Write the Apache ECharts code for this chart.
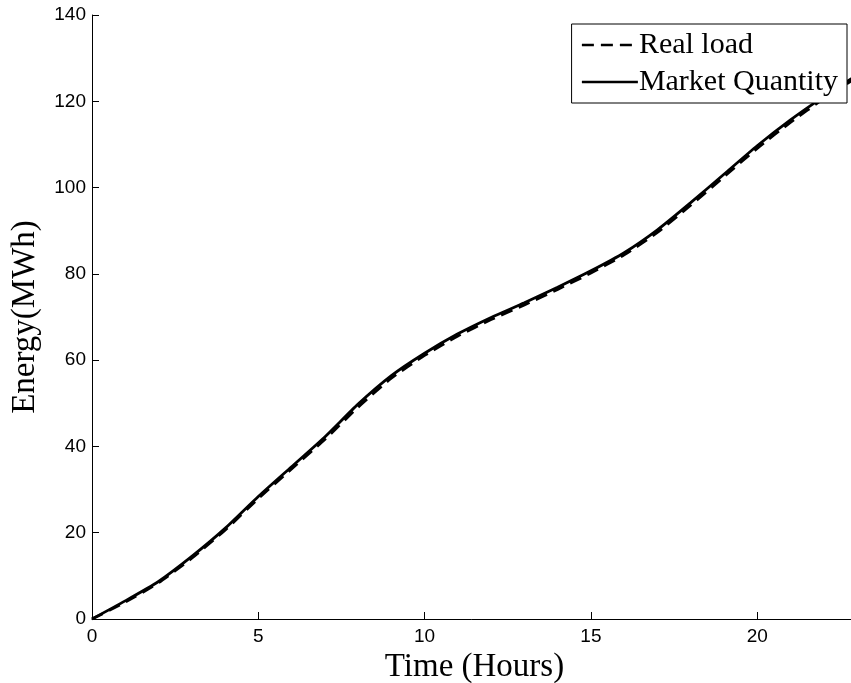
<!DOCTYPE html>
<html>
<head>
<meta charset="utf-8">
<script src="https://cdn.jsdelivr.net/npm/echarts@6/dist/echarts.min.js"></script>
<style>
  html, body { margin: 0; padding: 0; background: #fff; }
  #chart { width: 851px; height: 683px; }
</style>
</head>
<body>
<div id="chart"></div>
<script>
// Hour of day
const hours = [0, 1, 2, 3, 4, 5, 6, 7, 8, 9, 10, 11, 12, 13, 14, 15, 16, 17, 18, 19, 20, 21, 22, 23];
// Cumulative energy actually consumed (MWh)
const realLoad = [0, 3.9, 8.4, 14.1, 20.6, 27.9, 34.8, 41.6, 49.1, 55.8, 61.1, 65.6, 69.4, 72.8, 76.4, 80.2, 84.4, 89.6, 95.9, 102.5, 109.1, 115.1, 120.6, 125.6];
// Cumulative energy bought on the market (MWh)
const marketQty = [0, 4.2, 8.7, 14.5, 21.0, 28.4, 35.3, 42.2, 49.8, 56.4, 61.6, 66.1, 69.9, 73.3, 76.9, 80.7, 84.9, 90.2, 96.5, 103.1, 109.7, 115.7, 121.1, 126.1];
const xTicks = [0, 5, 10, 15, 20];

const serif = '"Liberation Serif", "Times New Roman", serif';
const sans = '"Liberation Sans", Arial, sans-serif';

const pair = (xs, ys) => xs.map((x, i) => [x, ys[i]]);

const chart = echarts.init(document.getElementById('chart'), null, { renderer: 'canvas' });
chart.setOption({
  backgroundColor: '#ffffff',
  animation: false,
  grid: { left: 92, top: 15, bottom: 64, right: -6, containLabel: false, outerBoundsMode: 'none' },
  legend: {
    orient: 'vertical',
    right: 4,
    top: 24,
    padding: [6, 9, 6, 9],
    itemGap: 7,
    itemWidth: 56,
    itemHeight: 30,
    backgroundColor: '#ffffff',
    borderColor: '#000000',
    borderWidth: 1,
    borderRadius: 0,
    itemStyle: { color: 'transparent', borderColor: 'transparent', borderWidth: 0 },
    lineStyle: { width: 2.6 },
    textStyle: { fontFamily: serif, fontSize: 30, color: '#000', padding: [0, 0, 0, -4] },
    data: ['Real load', 'Market Quantity']
  },
  xAxis: {
    type: 'value',
    min: 0,
    max: 23,
    interval: 5,
    name: 'Time (Hours)',
    nameLocation: 'middle',
    nameGap: 24,
    nameTextStyle: { fontFamily: serif, fontSize: 33, color: '#000' },
    axisLine: { show: true, onZero: false, lineStyle: { color: '#000', width: 1 } },
    axisTick: { show: true, inside: true, length: 7, lineStyle: { color: '#000' } },
    axisLabel: {
      margin: 8, fontFamily: sans, fontSize: 19, color: '#000',
      customValues: xTicks
    },
    splitLine: { show: false }
  },
  yAxis: {
    type: 'value',
    min: 0,
    max: 140,
    interval: 20,
    name: 'Energy(MWh)',
    nameLocation: 'middle',
    nameRotate: 90,
    nameGap: 50,
    nameTextStyle: { fontFamily: serif, fontSize: 33, color: '#000' },
    axisLine: { show: true, lineStyle: { color: '#000', width: 1 } },
    axisTick: { show: true, inside: true, length: 7, lineStyle: { color: '#000' } },
    axisLabel: { margin: 6, fontFamily: sans, fontSize: 19, color: '#000' },
    splitLine: { show: false }
  },
  series: [
    {
      name: 'Real load',
      type: 'line',
      data: pair(hours, realLoad),
      symbol: 'none',
      smooth: 0.2,
      lineStyle: { color: '#000', width: 2.8, type: [12, 7] },
      itemStyle: { color: '#000' }
    },
    {
      name: 'Market Quantity',
      type: 'line',
      data: pair(hours, marketQty),
      symbol: 'none',
      smooth: 0.2,
      lineStyle: { color: '#000', width: 2.8, type: 'solid' },
      itemStyle: { color: '#000' }
    }
  ]
});
</script>
</body>
</html>
